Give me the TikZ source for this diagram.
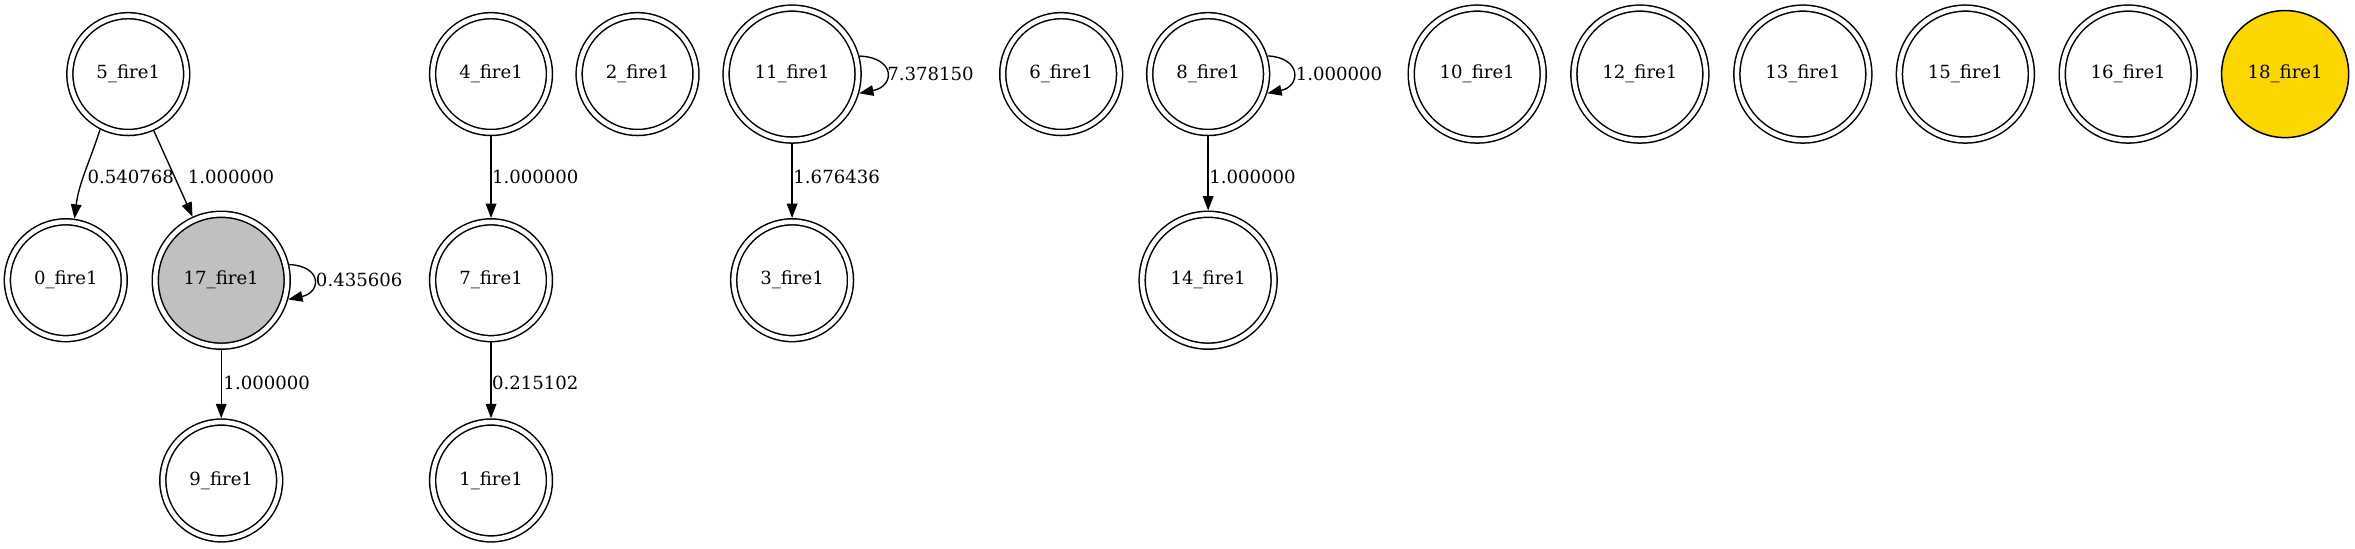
\documentclass[tikz,border=0pt]{standalone}
\usepackage{fontspec}
\setmainfont{DejaVu Serif}
\usetikzlibrary{arrows.meta}
\definecolor{nodegray}{RGB}{192,192,192}
\definecolor{nodegold}{RGB}{255,215,0}
\begin{document}
\begin{tikzpicture}[x=1pt,y=-1pt,
  every node/.style={font=\fontsize{12}{14}\selectfont},
  dc/.style={circle, draw=black, line width=1pt, double=white, double distance=3pt,
             inner sep=0pt, outer sep=2.5pt, minimum size=77.4pt},
  dcw/.style={dc, minimum size=87.4pt},
  sc/.style={circle, draw=black, line width=1pt, inner sep=0pt, outer sep=0.5pt, minimum size=84.2pt},
  arr/.style={draw=black, line width=0.9pt, -{Triangle[length=9.5pt,width=7pt]}},
  lbl/.style={anchor=west, inner sep=0pt},
]
\useasboundingbox (0,0) rectangle (1560.6,363.2);
% nodes
\node[dc]  (n5)  at (85,49.1)     {5\_fire1};
\node[dc]  (n0)  at (43.6,185.7)  {0\_fire1};
\node[dcw, fill=nodegray] (n17) at (146.6,185.7) {17\_fire1};
\node[dc]  (n9)  at (146.6,318.4) {9\_fire1};
\node[dc]  (n4)  at (325.4,49.1)  {4\_fire1};
\node[dc]  (n7)  at (325.4,185.7) {7\_fire1};
\node[dc]  (n1)  at (325.4,318.4) {1\_fire1};
\node[dc]  (n2)  at (422.5,49.1)  {2\_fire1};
\node[dcw] (n11) at (524.9,49.1)  {11\_fire1};
\node[dc]  (n3)  at (524.9,185.7) {3\_fire1};
\node[dc]  (n6)  at (703.2,49.1)  {6\_fire1};
\node[dc]  (n8)  at (800.6,49.1)  {8\_fire1};
\node[dcw] (n14) at (800.6,185.7) {14\_fire1};
\node[dcw] (n10) at (978.9,49.1)  {10\_fire1};
\node[dcw] (n12) at (1086.7,49.1) {12\_fire1};
\node[dcw] (n13) at (1194.7,49.1) {13\_fire1};
\node[dcw] (n15) at (1302.4,49.1) {15\_fire1};
\node[dcw] (n16) at (1410.3,49.1) {16\_fire1};
\node[sc, fill=nodegold] (n18) at (1514.3,49.1) {18\_fire1};
% edges
\draw[arr] (n5.-117) .. controls +(-7,22) and +(3,-24) .. (n0.82);
\draw[arr] (n5) -- (n17);
\draw[arr] (n17.13) .. controls +(22,1) and +(22,-4.7) .. (n17.-16);
\draw[arr] (n17) -- (n9);
\draw[arr] (n4) -- (n7);
\draw[arr] (n7) -- (n1);
\draw[arr] (n11.15) .. controls +(24,1) and +(24,-4.7) .. (n11.-16);
\draw[arr] (n11) -- (n3);
\draw[arr] (n8.17) .. controls +(22.5,1) and +(22.5,-4.7) .. (n8.-18);
\draw[arr] (n8) -- (n14);
% labels
\node[lbl] (l1)  at (57.8,117)    {0.540768};
\node[lbl] (l2)  at (124.3,117)   {1.000000};
\node[lbl] (l3)  at (209.2,185.7) {0.435606};
\node[lbl] (l4)  at (147.9,254)   {1.000000};
\node[lbl] (l5)  at (325.9,117)   {1.000000};
\node[lbl] (l6)  at (325.9,254)   {0.215102};
\node[lbl] (l7)  at (587.8,49.1)  {7.378150};
\node[lbl] (l8)  at (525.6,117)   {1.676436};
\node[lbl] (l9)  at (858.5,49.1)  {1.000000};
\node[lbl] (l10) at (801.2,117)   {1.000000};
\end{tikzpicture}
\end{document}
